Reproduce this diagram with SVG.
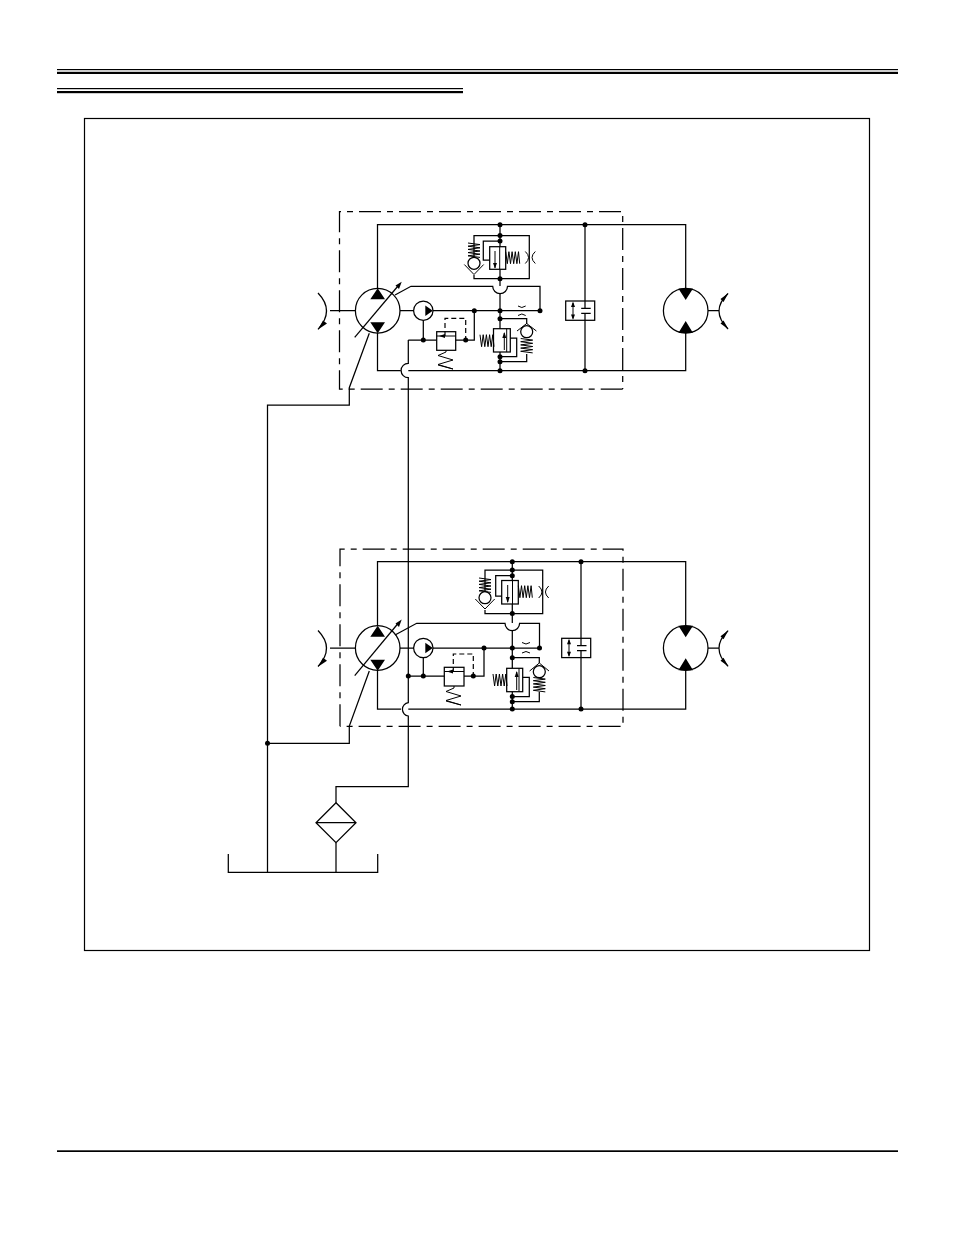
<svg xmlns="http://www.w3.org/2000/svg" width="954" height="1235" viewBox="0 0 954 1235">
<style>
.l{fill:none;stroke:#000;stroke-width:1.25}
.t{fill:none;stroke:#000;stroke-width:1}
.b{fill:none;stroke:#000;stroke-width:1.25;stroke-dasharray:22 6 6 6}
.s{fill:none;stroke:#000;stroke-width:1.2;stroke-dasharray:5 3}
.w{fill:#fff;stroke:#000;stroke-width:1.25}
.f{fill:#000;stroke:none}
</style>
<defs>
<circle id="dot" class="f" r="2.5"/>
<path id="sv" class="t" d="M-6 0L6 1.6L-6 3.2L6 4.8L-6 6.4L6 8L-6 9.6L6 11.2L-6 12.8L6 14.4"/>
<path id="sh" class="t" d="M0 -6L1.6 6L3.2 -6L4.8 6L6.4 -6L8 6L9.6 -6L11.2 6L12.8 -6L14 6"/>
<g id="ori"><path class="t" d="M-4 -6Q2.5 0 -4 6M6 -6Q-.5 0 6 6"/></g>
</defs>
<g id="page-rules" fill="#000">
<rect x="57" y="69" width="841" height="1.2"/><rect x="57" y="71.8" width="841" height="2.2"/>
<rect x="57" y="88" width="406" height="1.2"/><rect x="57" y="91" width="406" height="2.2"/>
<rect x="57" y="1150.3" width="841" height="1.7"/>
</g>
<rect id="frame" x="84.5" y="118.5" width="785" height="832" fill="none" stroke="#000" stroke-width="1.2"/>
<g id="connectors">
<path class="b" d="M622.7 389H339.5V211.7H622.7V389"/>
<path class="b" d="M340 726.3V549H623V726.3H340"/>
<path class="l" d="M377.5 288V224.7H685.7V288M377.5 333V370.7H400.8M408.3 370.7H685.7V333"/>
<path class="l" d="M377.5 626V561.7H685.7V626M377.5 671V709H401M408.3 709H685.7V670"/>
<path class="l" d="M355 310.7H330M400 310.7H414M433 310.7H540V286.3H507.5A7.3 7.3 0 0 1 492.7 286.3H411L395 295"/>
<path class="l" d="M355 648H330M400 648H414M433 648H539.5V623.3H519.6A7.3 7.3 0 0 1 505 623.3H416.7L395 635"/>
<path class="l" d="M500 224.7V246.5M500 269.5V286M500 293.5V328.7M500 352V370.7"/>
<path class="l" d="M512.3 561.7V580.5M512.3 604V623M512.3 630.7V668.3M512.3 691.7V709"/>
<path class="l" d="M423.3 320.5V340M408.3 340H436.7M455.7 340H474.3V310.7"/>
<path class="l" d="M423.3 657.8V676M408.3 676H444.3M464 676H484V648"/>
<path class="s" d="M445 336V318.3H465.7V340"/>
<path class="s" d="M453.3 672V654H473.3V676"/>
<path class="l" d="M408.3 340V363.3A7.2 7.2 0 0 0 408.3 377.7V702.7A6.7 6.7 0 0 0 408.3 716V786.7H336V802.7"/>
<path class="l" d="M369.3 333.3L349.3 387.7V405H267.5V872.3"/>
<path class="l" d="M369.3 671L349.3 726V743.3H267.5"/>
<path class="l" d="M336 842.7V872.3"/>
<use href="#dot" x="267.5" y="743.3"/><use href="#dot" x="408.3" y="676"/>
<use href="#dot" x="500" y="224.7"/><use href="#dot" x="585" y="224.7"/><use href="#dot" x="500" y="370.7"/><use href="#dot" x="585" y="370.7"/>
<use href="#dot" x="512.3" y="561.7"/><use href="#dot" x="581" y="561.7"/><use href="#dot" x="512.3" y="709"/><use href="#dot" x="581" y="709"/>
<use href="#dot" x="474.3" y="310.7"/><use href="#dot" x="500" y="310.7"/><use href="#dot" x="540" y="310.7"/><use href="#dot" x="423.3" y="340"/><use href="#dot" x="465.7" y="340"/>
<use href="#dot" x="484" y="648"/><use href="#dot" x="512.3" y="648"/><use href="#dot" x="539.5" y="648"/><use href="#dot" x="423.3" y="676"/><use href="#dot" x="473.3" y="676"/>
</g>
<g id="pump-1">
<circle class="l" cx="377.7" cy="310.7" r="22.3"/>
<path class="f" d="M377.7 288.3L385 299.3H370.3ZM377.7 333.3L385 322.3H370.3Z"/>
<path class="l" d="M354.7 337.3L398 286"/><path class="f" d="M401.7 281.7L395.5 285.5L399 289Z"/>
<path class="l" d="M318 293Q335 310.7 318 329.3"/><path class="f" d="M318 329.5L323 320.5L327 323.5Z"/>
</g>
<g id="pump-2">
<circle class="l" cx="377.7" cy="648" r="22.3"/>
<path class="f" d="M377.7 625.7L385 636.7H370.3ZM377.7 670.7L385 659.7H370.3Z"/>
<path class="l" d="M354.7 675.7L398 623.5"/><path class="f" d="M401.7 619.5L395.5 623.5L399 627Z"/>
<path class="l" d="M318 630.5Q335 648 318 666.5"/><path class="f" d="M318 666.7L323 657.7L327 660.7Z"/>
</g>
<g id="charge-pump-1">
<circle class="l" cx="423.3" cy="310.7" r="9.7"/><path class="f" d="M425.3 305.5L432.8 310.7L425.3 316Z"/>
</g>
<g id="charge-pump-2">
<circle class="l" cx="423.3" cy="648" r="9.7"/><path class="f" d="M425.3 642.8L432.8 648L425.3 653.3Z"/>
</g>
<g id="charge-relief-1">
<rect class="l" x="436.7" y="331.7" width="19" height="18.6"/>
<path class="t" d="M436.7 336H455.7"/><path class="f" d="M439 336L445 334V338Z"/>
<path class="t" d="M446 350.3V352L438 355.5L453 360L438 364.5L453 369L438 365"/>
</g>
<g id="charge-relief-2">
<rect class="l" x="444.3" y="667.3" width="19.7" height="18.7"/>
<path class="t" d="M444.3 671.5H464"/><path class="f" d="M447 671.5L453 669.5V673.5Z"/>
<path class="t" d="M454 686V688L446 691.5L461 696L446 700.5L461 705L446 701"/>
</g>
<g id="relief-high-1">
<path class="l" d="M500 235.5H529.3V278.7H474V275M474 257V235.5H500M500 241H483.3V260H489.7"/>
<rect class="l" x="489.7" y="246.7" width="16" height="22.6"/>
<path class="t" d="M499.7 246.7V269.3M495 251V268"/><path class="f" d="M495 268.5L493 263H497Z"/>
<circle class="w" cx="474" cy="263.3" r="6"/><path class="t" d="M464.3 264.5L474 274.5L483.7 264.5"/>
<use href="#sv" x="474" y="243"/><use href="#sh" x="505.7" y="257.7"/><use href="#ori" x="529.3" y="257.5"/>
<use href="#dot" x="500" y="235.5"/><use href="#dot" x="500" y="241"/><use href="#dot" x="500" y="278.7"/>
</g>
<g id="relief-low-1">
<path class="l" d="M500 318.7H526.7V324M510.3 338H516.7V356.7H500M500 361.7H526.7V354"/>
<rect class="l" x="493.5" y="328.7" width="16.8" height="23.3"/>
<path class="t" d="M506.7 328.7V352M504.3 333V350"/><path class="f" d="M504.3 332L502.3 338H506.3Z"/>
<circle class="w" cx="526.7" cy="331.7" r="6"/><path class="t" d="M517 331L526.7 323.5L536.4 331"/>
<use href="#sv" x="526.7" y="338.5"/><use href="#sh" x="480" y="340.7"/>
<use href="#dot" x="500" y="318.7"/><use href="#dot" x="500" y="356.7"/><use href="#dot" x="500" y="361.7"/>
<path class="t" d="M518 306Q521.8 309 525.7 306M518 315.5Q521.8 312.5 525.7 315.5"/>
</g>
<g id="relief-high-2">
<path class="l" d="M512.3 570H542.7V613.5H485V610M485 592V570H512.3M512.3 575.7H495.7V596H501.7"/>
<rect class="l" x="501.7" y="580.5" width="16.6" height="23.5"/>
<path class="t" d="M512.5 580.5V604M507.7 585V602"/><path class="f" d="M507.7 603L505.7 597H509.7Z"/>
<circle class="w" cx="485" cy="597.7" r="6"/><path class="t" d="M475.3 599L485 609L494.7 599"/>
<use href="#sv" x="485" y="578"/><use href="#sh" x="518.3" y="591.7"/><use href="#ori" x="542.7" y="592"/>
<use href="#dot" x="512.3" y="570"/><use href="#dot" x="512.3" y="575.7"/><use href="#dot" x="512.3" y="613.5"/>
</g>
<g id="relief-low-2">
<path class="l" d="M512.3 657.7H539.3V663M522.7 677.3H529.3V696.5H512.3M512.3 701.7H539.3V692"/>
<rect class="l" x="506.7" y="668.3" width="16" height="23.4"/>
<path class="t" d="M519 668.3V691.7M516.7 672V690"/><path class="f" d="M516.7 671L514.7 677H518.7Z"/>
<circle class="w" cx="539.3" cy="671.7" r="6"/><path class="t" d="M529.6 671L539.3 663L549 671"/>
<use href="#sv" x="539.3" y="677.5"/><use href="#sh" x="493" y="680"/>
<use href="#dot" x="512.3" y="657.7"/><use href="#dot" x="512.3" y="696.5"/><use href="#dot" x="512.3" y="701.7"/>
<path class="t" d="M522 642.5Q526 645.5 530 642.5M522 653Q526 650 530 653"/>
</g>
<g id="bypass-1">
<rect class="w" x="565.7" y="301" width="29" height="19.3"/>
<path class="l" d="M585 224.7V308.3M585 313.3V370.7"/>
<path class="l" d="M581.2 308.3H590.7M581.2 313.3H590.7"/>
<path class="t" d="M573 303V318.5"/><path class="f" d="M573 301.5L571 307H575ZM573 319.8L571 314.5H575Z"/>
</g>
<g id="bypass-2">
<rect class="w" x="561.7" y="638.3" width="29" height="19.3"/>
<path class="l" d="M581 561.7V645.6M581 650.6V709"/>
<path class="l" d="M577 645.6H586.5M577 650.6H586.5"/>
<path class="t" d="M569 640.3V655.8"/><path class="f" d="M569 638.8L567 644.3H571ZM569 657.1L567 651.8H571Z"/>
</g>
<g id="motor-1">
<circle class="l" cx="685.7" cy="310.7" r="22.3"/>
<path class="f" d="M685.7 300L693 288.5H678.4ZM685.7 321L693 333H678.4Z"/>
<path class="l" d="M708 310.7H719M728 293.5Q710 310.7 728 329"/>
<path class="f" d="M728.5 293L723.5 302L720.5 299ZM728.5 329.3L723.5 320.5L720.5 323.5Z"/>
</g>
<g id="motor-2">
<circle class="l" cx="685.7" cy="648" r="22.3"/>
<path class="f" d="M685.7 637.3L693 625.8H678.4ZM685.7 658.3L693 670.3H678.4Z"/>
<path class="l" d="M708 648H719M728 630.8Q710 648 728 666.3"/>
<path class="f" d="M728.5 630.3L723.5 639.3L720.5 636.3ZM728.5 666.6L723.5 657.8L720.5 660.8Z"/>
</g>
<g id="filter">
<path class="l" d="M336 802.7L316 822.7L336 842.7L356 822.7ZM316 822.7H356"/>
</g>
<g id="tank">
<path class="l" d="M228.3 854V872.3H377.7V854"/>
</g>
</svg>
